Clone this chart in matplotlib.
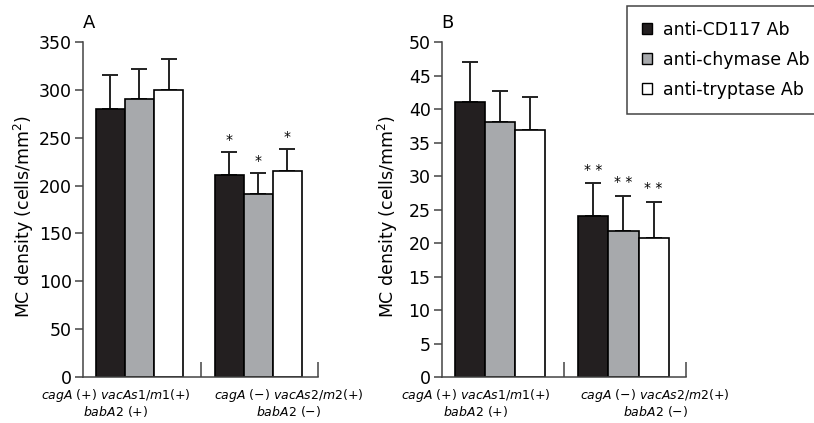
import matplotlib
matplotlib.use("Agg")
import matplotlib.pyplot as plt
from matplotlib.patches import Patch

plt.rcParams["font.family"] = ["DejaVu Sans"]
plt.rcParams["mathtext.fontset"] = "custom"
plt.rcParams["mathtext.it"] = "DejaVu Sans:italic"

# data
series = ["anti-CD117 Ab", "anti-chymase Ab", "anti-tryptase Ab"]
colors = ["#231f20", "#a7a9ac", "#ffffff"]
group_labels = [r"$\mathit{cagA}$ (+) $\mathit{vacAs1/m1}$(+)" + "\n" + r"$\mathit{babA2}$ (+)",
                r"$\mathit{cagA}$ (−) $\mathit{vacAs2/m2}$(+)" + "\n" + r"$\mathit{babA2}$ (−)"]

a_means = [[280, 211], [290, 191], [300, 215]]
a_err = [[36, 24], [32, 22], [32, 23]]
a_stars = ["*", "*", "*"]

b_means = [[41, 24], [38, 21.8], [36.8, 20.7]]
b_err = [[6, 4.9], [4.7, 5.2], [5, 5.4]]
b_stars = ["* *", "* *", "* *"]

fig = plt.figure(figsize=(8.14, 4.23), dpi=100)
axA = fig.add_axes([0.102, 0.1087, 0.289, 0.792])
axB = fig.add_axes([0.5426, 0.1087, 0.2998, 0.792])

width = 0.247
offsets = [-width, 0, width]
centers = [-0.02, 0.99]


def panel(ax, means, errs, stars, ymax, step, star_gap, title, ylab_x):
    for i in range(3):
        xs = [c + offsets[i] for c in centers]
        ax.bar(xs, means[i], width, color=colors[i], edgecolor="black", linewidth=1.2, zorder=2)
        ax.errorbar(xs, means[i], yerr=[[0, 0], errs[i]], fmt="none", ecolor="#222222",
                    elinewidth=1.4, capsize=6, capthick=1.4, zorder=1)
        # significance marks above group 2
        ax.text(xs[1], means[i][1] + errs[i][1] + star_gap, stars[i], ha="center", va="bottom",
                fontsize=10)
    ax.set_xlim(-0.5, 1.5)
    ax.set_ylim(0, ymax)
    ax.set_yticks(range(0, ymax + 1, step))
    ax.set_xticks([0.5, 1.5])
    ax.set_xticklabels([])
    ax.tick_params(axis="x", direction="in", length=11, width=1.1, color="#444444")
    ax.tick_params(axis="y", direction="out", length=6, width=1.1, color="#444444",
                   labelsize=12.5, pad=2)
    for s in ["top", "right"]:
        ax.spines[s].set_visible(False)
    for s in ["left", "bottom"]:
        ax.spines[s].set_color("#444444")
        ax.spines[s].set_linewidth(1.1)
    ax.set_ylabel("MC density (cells/mm$^2$)", fontsize=12.5)
    ax.yaxis.set_label_coords(ylab_x, 0.48)
    ax.text(0.0, 1.03, title, transform=ax.transAxes, fontsize=13, ha="left", va="bottom")
    for c, lab in zip([-0.22, 1.25], group_labels):
        ax.text(c, -0.031, lab, transform=ax.get_xaxis_transform(), ha="center", va="top",
                fontsize=9, linespacing=0.95)


panel(axA, a_means, a_err, a_stars, 350, 50, 5, "A", -0.2)
panel(axB, b_means, b_err, b_stars, 50, 5, 1.0, "B", -0.172)

handles = [Patch(facecolor=c, edgecolor="black", linewidth=1.0) for c in colors]
leg = fig.legend(handles, series, loc="upper left", bbox_to_anchor=(627 / 814, 1 - 6 / 423),
                 fontsize=12.5, handlelength=0.6, handleheight=0.6, handletextpad=0.6,
                 labelspacing=0.7, borderpad=0.85, borderaxespad=0, fancybox=False, framealpha=1)
leg.get_frame().set_edgecolor("#444444")
leg.get_frame().set_linewidth(1.1)

fig.savefig("out.png", dpi=100)
